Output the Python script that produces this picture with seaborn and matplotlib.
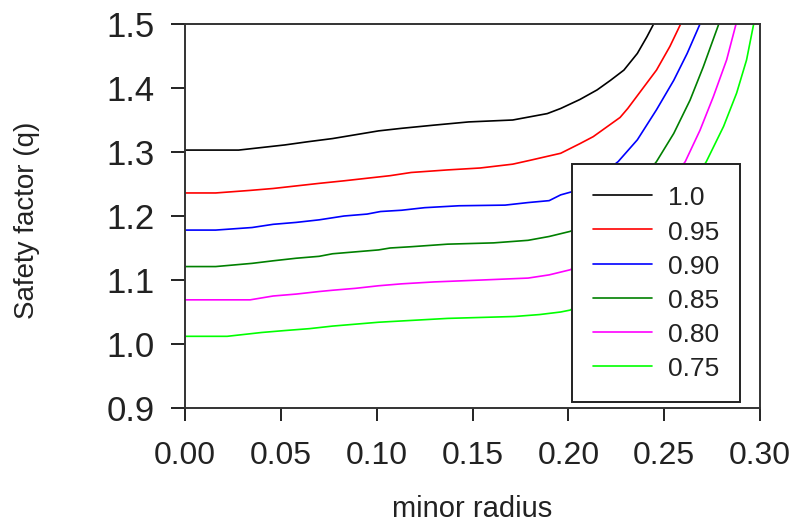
import numpy as np
import pandas as pd
import matplotlib
matplotlib.use("Agg")
import matplotlib.pyplot as plt
import seaborn as sns

# ---- data ----
labels = ["1.0", "0.95", "0.90", "0.85", "0.80", "0.75"]
colors = ["#000000", "#ff0000", "#0000ff", "#008000", "#ff00ff", "#00ff00"]

r_10 = [0.0, 0.028, 0.040, 0.052, 0.064, 0.077, 0.089, 0.101, 0.113, 0.130, 0.148, 0.171, 0.189,
        0.196, 0.206, 0.215, 0.222, 0.229, 0.236, 0.241, 0.2445]
q_10 = [1.303, 1.303, 1.307, 1.311, 1.316, 1.321, 1.327, 1.333, 1.337, 1.342, 1.347, 1.350, 1.360,
        1.368, 1.382, 1.397, 1.412, 1.428, 1.454, 1.480, 1.500]

r_95 = [0.0, 0.016, 0.034, 0.046, 0.058, 0.070, 0.083, 0.095, 0.107, 0.118, 0.137, 0.154, 0.171,
        0.180, 0.196, 0.206, 0.213, 0.220, 0.227, 0.231, 0.237, 0.246, 0.253, 0.2586]
q_95 = [1.236, 1.236, 1.240, 1.243, 1.247, 1.251, 1.255, 1.259, 1.263, 1.268, 1.272, 1.275, 1.281,
        1.287, 1.298, 1.313, 1.324, 1.339, 1.354, 1.368, 1.392, 1.428, 1.465, 1.500]

r_90 = [0.0, 0.016, 0.035, 0.046, 0.058, 0.070, 0.083, 0.095, 0.102, 0.113, 0.125, 0.143, 0.167,
        0.179, 0.190, 0.196, 0.202, 0.210, 0.218, 0.226, 0.236, 0.246, 0.255, 0.262, 0.2687]
q_90 = [1.178, 1.178, 1.182, 1.187, 1.190, 1.194, 1.200, 1.203, 1.207, 1.209, 1.213, 1.216, 1.217,
        1.221, 1.224, 1.233, 1.238, 1.250, 1.266, 1.285, 1.319, 1.366, 1.412, 1.454, 1.500]

r_85 = [0.0, 0.016, 0.035, 0.046, 0.058, 0.070, 0.077, 0.089, 0.101, 0.107, 0.118, 0.137, 0.161,
        0.179, 0.190, 0.201, 0.215, 0.230, 0.246, 0.255, 0.2635, 0.2704, 0.2785]
q_85 = [1.121, 1.121, 1.126, 1.130, 1.134, 1.137, 1.141, 1.144, 1.147, 1.150, 1.152, 1.156, 1.158,
        1.162, 1.168, 1.176, 1.195, 1.225, 1.285, 1.329, 1.381, 1.433, 1.500]

r_80 = [0.0, 0.034, 0.046, 0.058, 0.070, 0.077, 0.089, 0.101, 0.113, 0.130, 0.155, 0.179, 0.190,
        0.201, 0.220, 0.240, 0.261, 0.2687, 0.2756, 0.2826, 0.2875]
q_80 = [1.069, 1.069, 1.075, 1.078, 1.082, 1.084, 1.087, 1.091, 1.094, 1.097, 1.100, 1.103, 1.108,
        1.116, 1.150, 1.200, 1.285, 1.334, 1.386, 1.444, 1.500]

r_75 = [0.0, 0.022, 0.040, 0.052, 0.065, 0.077, 0.089, 0.101, 0.113, 0.137, 0.172, 0.185, 0.196,
        0.201, 0.220, 0.245, 0.272, 0.281, 0.2878, 0.293, 0.2967]
q_75 = [1.012, 1.012, 1.018, 1.021, 1.024, 1.028, 1.031, 1.034, 1.036, 1.040, 1.043, 1.046, 1.050,
        1.053, 1.090, 1.160, 1.285, 1.340, 1.392, 1.444, 1.500]

x_ticks = [0.00, 0.05, 0.10, 0.15, 0.20, 0.25, 0.30]
x_tick_labels = ["0.00", "0.05", "0.10", "0.15", "0.20", "0.25", "0.30"]
y_ticks = [0.9, 1.0, 1.1, 1.2, 1.3, 1.4, 1.5]
y_tick_labels = ["0.9", "1.0", "1.1", "1.2", "1.3", "1.4", "1.5"]

series_r = [r_10, r_95, r_90, r_85, r_80, r_75]
series_q = [q_10, q_95, q_90, q_85, q_80, q_75]

frames = []
for lab, rr, qq in zip(labels, series_r, series_q):
    frames.append(pd.DataFrame({"minor radius": rr, "q": qq, "curve": lab}))
df = pd.concat(frames, ignore_index=True)

# ---- plot ----
sns.set_style("white")
plt.rcParams["font.family"] = ["Liberation Sans", "DejaVu Sans"]

fig = plt.figure(figsize=(7.94, 5.25), dpi=100)
ax = fig.add_axes([185 / 794, 1 - 408 / 525, (760 - 185) / 794, (408 - 24) / 525])

sns.lineplot(data=df, x="minor radius", y="q", hue="curve", hue_order=labels,
             palette=dict(zip(labels, colors)), sort=False, estimator=None,
             linewidth=1.2, ax=ax, legend=False)

ax.set_xlim(0, 0.30)
ax.set_ylim(0.9, 1.5)
ax.set_xticks(x_ticks)
ax.set_xticklabels(x_tick_labels, fontsize=23, color="#111111")
ax.set_yticks(y_ticks)
ax.set_yticklabels(y_tick_labels, fontsize=25, color="#111111")
ax.tick_params(axis="x", direction="out", length=9, width=1.4, pad=15, colors="#222222",
               bottom=True, top=False)
ax.tick_params(axis="y", direction="out", length=10, width=1.4, pad=12, colors="#222222",
               left=True, right=False)
for s in ax.spines.values():
    s.set_visible(True)
    s.set_linewidth(1.4)
    s.set_color("#333333")

ax.set_xlabel("minor radius", fontsize=21, color="#222222")
ax.set_ylabel("Safety factor (q)", fontsize=20, color="#222222")
ax.xaxis.set_label_coords(0.5, -0.227)
ax.yaxis.set_label_coords(-0.252, 0.49)

from matplotlib.lines import Line2D
handles = [Line2D([0], [0], color=c, lw=1.2) for c in colors]
leg = fig.legend(handles, labels, loc="upper left",
                 bbox_to_anchor=(572 / 794, 1 - 164 / 525), bbox_transform=fig.transFigure,
                 fontsize=19, frameon=True, fancybox=False, edgecolor="#222222",
                 framealpha=1, handlelength=2.23, handleheight=0.92, handletextpad=0.6,
                 borderpad=0.8, labelspacing=0.34, borderaxespad=0)
leg.get_frame().set_linewidth(1.4)
for t in leg.get_texts():
    t.set_color("#222222")

fig.savefig("out.png", dpi=100)
